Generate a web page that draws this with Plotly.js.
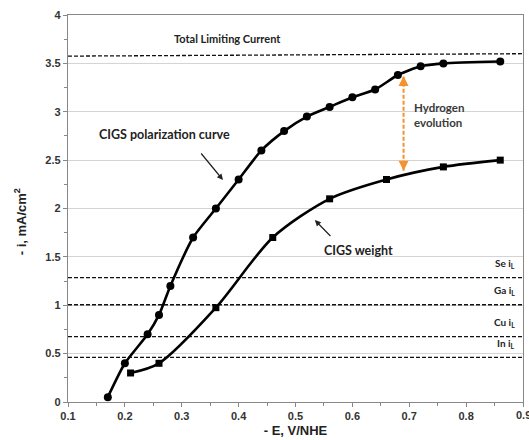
<!DOCTYPE html>
<html>
<head>
<meta charset="utf-8">
<script src="https://cdn.plot.ly/plotly-3.0.1.min.js"></script>
<style>html,body{margin:0;padding:0;background:#fff;overflow:hidden;}#chart{width:529px;height:440px;}</style>
</head>
<body>
<div id="chart"></div>
<script>
// Data
const polE = [0.17, 0.20, 0.24, 0.26, 0.28, 0.32, 0.36, 0.40, 0.44, 0.48, 0.52, 0.56, 0.60, 0.64, 0.68, 0.72, 0.76, 0.86];
const polI = [0.05, 0.40, 0.70, 0.90, 1.20, 1.70, 2.00, 2.30, 2.60, 2.80, 2.95, 3.05, 3.15, 3.23, 3.38, 3.47, 3.50, 3.52];
const wE = [0.21, 0.26, 0.36, 0.46, 0.56, 0.66, 0.76, 0.86];
const wI = [0.30, 0.40, 0.975, 1.70, 2.10, 2.30, 2.43, 2.50];
const limitNames = ["Se", "Ga", "Cu", "In"];
const limitValues = [1.285, 1.005, 0.675, 0.462];
const totalLimitY = [3.575, 3.60];
const totalLimitX = [0.1, 0.9];
const h2E = 0.69;
const h2Range = [2.39, 3.37];

const traces = [];
traces.push({x: totalLimitX, y: totalLimitY, mode: 'lines', line: {color: '#111', width: 1.3, dash: '4px,2px'}, hoverinfo: 'skip'});
limitValues.forEach(v => {
  traces.push({x: totalLimitX, y: [v, v], mode: 'lines', line: {color: '#111', width: 1.3, dash: '4px,2px'}, hoverinfo: 'skip'});
});
traces.push({x: polE, y: polI, mode: 'lines+markers', line: {color: '#000', width: 2.6, shape: 'spline', smoothing: 0.6},
  marker: {symbol: 'circle', size: 8, color: '#000'}});
traces.push({x: wE, y: wI, mode: 'lines+markers', line: {color: '#000', width: 2.6, shape: 'spline', smoothing: 0.8},
  marker: {symbol: 'square', size: 7, color: '#000'}});
traces.push({x: [h2E, h2E], y: h2Range, mode: 'lines', line: {color: '#F5922F', width: 2, dash: '4px,2px'}, hoverinfo: 'skip'});

const annotations = [
  {x: 0.38, y: 3.76, xref: 'x', yref: 'y', text: '<b>Total Limiting Current</b>', showarrow: false, font: {family: 'Lato, sans-serif', size: 11, color: '#222'}},
  {x: 0.27, y: 2.77, xref: 'x', yref: 'y', text: '<b>CIGS polarization curve</b>', showarrow: false, font: {family: 'Lato, sans-serif', size: 12.5, color: '#222'}},
  {x: 0.3725, y: 2.295, ax: 0.332, ay: 2.584, xref: 'x', yref: 'y', axref: 'x', ayref: 'y', text: '', showarrow: true, arrowhead: 2, arrowsize: 1, arrowwidth: 1.2, arrowcolor: '#222'},
  {x: 0.534, y: 1.88, ax: 0.564, ay: 1.70, xref: 'x', yref: 'y', axref: 'x', ayref: 'y', text: '', showarrow: true, arrowhead: 2, arrowsize: 1, arrowwidth: 1.2, arrowcolor: '#222'},
  {x: 0.61, y: 1.57, xref: 'x', yref: 'y', text: '<b>CIGS weight</b>', showarrow: false, font: {family: 'Lato, sans-serif', size: 12.5, color: '#222'}},
  {x: 0.705, y: 2.97, xref: 'x', yref: 'y', xanchor: 'left', align: 'left', text: '<b>Hydrogen<br>evolution</b>', showarrow: false, font: {family: 'Lato, sans-serif', size: 11.5, color: '#3a3a3a'}},
  {x: h2E, y: h2Range[1], xref: 'x', yref: 'y', ax: 0, ay: 9, text: '', showarrow: true, arrowhead: 2, arrowsize: 1, arrowwidth: 2, arrowcolor: '#F5922F'},
  {x: h2E, y: h2Range[0], xref: 'x', yref: 'y', ax: 0, ay: -9, text: '', showarrow: true, arrowhead: 2, arrowsize: 1, arrowwidth: 2, arrowcolor: '#F5922F'},
  {x: 0.9, y: 0, xref: 'x', yref: 'paper', yanchor: 'top', yshift: -5, text: '<b>0.9</b>', showarrow: false,
    font: {family: 'Arial, "Liberation Sans", sans-serif', size: 11, color: '#333'}},
  {x: -0.105, y: 1.86, xref: 'paper', yref: 'y', xanchor: 'center', yanchor: 'middle', textangle: -90,
    text: '<b>- i, mA/cm<sup>2</sup></b>', showarrow: false, font: {family: 'Arial, sans-serif', size: 13, color: '#222'}}
];
limitNames.forEach((n, i) => {
  annotations.push({x: 0.89, y: limitValues[i] + 0.06, xref: 'x', yref: 'y', xanchor: 'right', yanchor: 'bottom',
    text: '<b>' + n + ' i<sub>L</sub></b>', showarrow: false, font: {family: 'Lato, sans-serif', size: 10, color: '#222'}});
});

const tickFont = {family: 'Arial, "Liberation Sans", sans-serif', size: 11, color: '#333', weight: 'bold'};
const layout = {
  width: 529, height: 440,
  margin: {l: 68, r: 6, t: 15, b: 38},
  paper_bgcolor: '#fff', plot_bgcolor: '#fff',
  showlegend: false,
  xaxis: {range: [0.1, 0.9], tickvals: [0.1, 0.2, 0.3, 0.4, 0.5, 0.6, 0.7, 0.8, 0.9], ticktext: ['0.1','0.2','0.3','0.4','0.5','0.6','0.7','0.8',''],
    showgrid: false, zeroline: false,
    showline: true, linecolor: '#888', linewidth: 1.2, mirror: true,
    ticks: 'outside', ticklen: 4, tickcolor: '#888',
    minor: {dtick: 0.05, tick0: 0.1, ticks: 'outside', ticklen: 3, tickcolor: '#888', showgrid: false},
    tickfont: tickFont,
    title: {text: '<b>- E, V/NHE</b>', font: {family: 'Arial, sans-serif', size: 13, color: '#222'}, standoff: 4}},
  yaxis: {range: [0, 4], dtick: 0.5, showgrid: true, gridcolor: '#d4d4d4', gridwidth: 1, zeroline: false,
    showline: true, linecolor: '#888', linewidth: 1.2, mirror: true,
    ticks: 'outside', ticklen: 4, tickcolor: '#888',
    minor: {dtick: 0.25, ticks: 'outside', ticklen: 3, tickcolor: '#888', showgrid: false},
    tickfont: tickFont},
  annotations: annotations
};
Plotly.newPlot('chart', traces, layout, {displayModeBar: false, staticPlot: true});
</script>
</body>
</html>
